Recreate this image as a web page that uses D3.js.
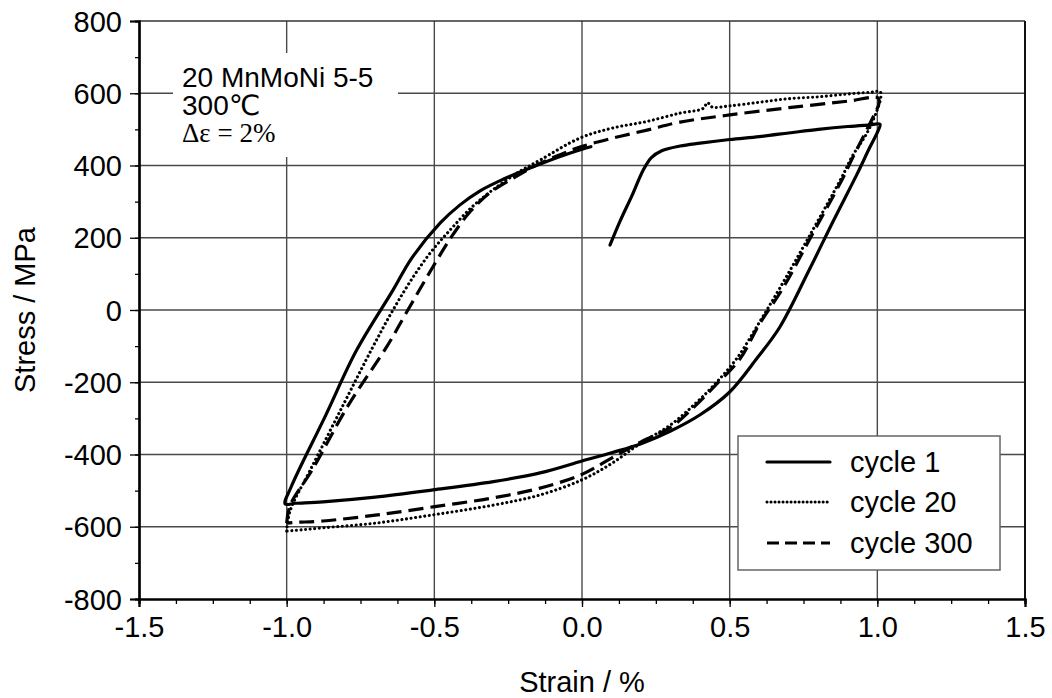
<!DOCTYPE html>
<html>
<head>
<meta charset="utf-8">
<script src="https://cdn.jsdelivr.net/npm/d3@7"></script>
<style>
  html, body { margin: 0; padding: 0; background: #fff; }
  svg { display: block; }
  text { font-family: "Liberation Sans", Arial, Helvetica, sans-serif; fill: #000; }
</style>
</head>
<body>
<svg id="chart" width="1052" height="698"></svg>
<script>
// Axis ranges and tick labels
const xDomain = [-1.5, 1.5];
const yDomain = [-800, 800];
const xTicks = [-1.5, -1.0, -0.5, 0.0, 0.5, 1.0, 1.5];
const yTicks = [-800, -600, -400, -200, 0, 200, 400, 600, 800];
const xMinorStep = 0.125;
const yMinorStep = 100;

// Hysteresis loops: [strain %, stress MPa]
const cycle1 = [
  [0.095, 180], [0.13, 248], [0.17, 318], [0.207, 387], [0.235, 422], [0.27, 441],
  [0.332, 454], [0.4, 462], [0.5, 472], [0.6, 480], [0.7, 490], [0.8, 500],
  [0.9, 508], [0.97, 512], [1.009, 514],
  [1.0, 492], [0.975, 451], [0.93, 374], [0.85, 245], [0.77, 112], [0.67, -47],
  [0.593, -133], [0.5, -227], [0.4, -290], [0.3, -335], [0.2, -370], [0.1, -395],
  [0.0, -418], [-0.142, -451], [-0.3, -475], [-0.504, -498], [-0.7, -518],
  [-0.877, -531], [-0.97, -535], [-1.005, -537],
  [-0.985, -490], [-0.87, -295], [-0.763, -111],
  [-0.64, 55], [-0.577, 143], [-0.48, 241], [-0.413, 291], [-0.345, 330],
  [-0.267, 362], [-0.176, 393], [-0.074, 425], [0.0, 445], [0.03, 452]
];

const cycle20 = [
  [-1.0, -612], [-0.988, -555], [-0.92, -443], [-0.81, -265],
  [-0.708, -102], [-0.64, 0], [-0.572, 91], [-0.51, 162],
  [-0.447, 221], [-0.379, 280], [-0.311, 327], [-0.22, 379], [-0.142, 415],
  [-0.007, 476], [0.105, 504], [0.22, 522], [0.332, 545], [0.41, 558],
  [0.425, 574], [0.44, 562], [0.5, 565], [0.6, 575], [0.7, 585], [0.8, 590],
  [0.9, 598], [0.98, 603], [1.009, 605],
  [1.012, 590], [1.0, 555], [0.965, 490], [0.914, 424], [0.88, 368], [0.77, 205],
  [0.67, 61], [0.6, -35], [0.525, -133], [0.45, -205], [0.38, -262], [0.3, -318],
  [0.2, -368], [0.1, -425], [0.0, -470], [-0.142, -512], [-0.3, -540],
  [-0.504, -567], [-0.7, -590], [-0.877, -603], [-0.97, -610], [-1.0, -612]
];

const cycle300 = [
  [-1.0, -590], [-0.988, -540], [-0.914, -443], [-0.79, -262],
  [-0.66, -100], [-0.593, -5], [-0.505, 119], [-0.44, 205],
  [-0.379, 272], [-0.311, 325], [-0.233, 365], [-0.152, 402],
  [-0.098, 422], [-0.007, 451], [0.105, 476], [0.22, 498], [0.332, 520],
  [0.5, 540], [0.7, 560], [0.9, 578], [1.003, 587],
  [1.005, 570], [0.992, 545], [0.952, 479], [0.918, 424], [0.88, 360],
  [0.78, 210], [0.68, 60], [0.6, -40], [0.535, -135], [0.45, -210], [0.38, -268],
  [0.3, -325], [0.2, -365], [0.1, -410], [0.0, -455], [-0.142, -493],
  [-0.3, -520], [-0.504, -545], [-0.7, -568], [-0.877, -584], [-0.97, -588],
  [-1.0, -590]
];

const seriesNames = ["cycle 1", "cycle 20", "cycle 300"];
const annotationLines = ["20 MnMoNi 5-5", "300\u2103", "\u0394\u03b5 = 2%"];

// Plot frame edges
const frame = { left: 139, right: 1025, top: 21, bottom: 599 };
const x = d3.scaleLinear().domain(xDomain).range([frame.left, frame.right]);
const y = d3.scaleLinear().domain(yDomain).range([frame.bottom, frame.top]);

const svg = d3.select("#chart");

// Stroke styles for the three cycles
const styles = [
  { width: 3.2, dash: null, cap: "round" },
  { width: 3.1, dash: "0.01 4.6", cap: "round" },
  { width: 3.2, dash: "15 7", cap: "butt" }
];

// Grid
const grid = svg.append("g").attr("stroke", "#4a4a4a").attr("stroke-width", 1.4);
grid.selectAll("line.v").data(xTicks.slice(1, -1)).join("line").attr("class", "v")
  .attr("x1", d => x(d)).attr("x2", d => x(d))
  .attr("y1", frame.top).attr("y2", frame.bottom);
grid.selectAll("line.h").data(yTicks.slice(1, -1)).join("line").attr("class", "h")
  .attr("x1", frame.left).attr("x2", frame.right)
  .attr("y1", d => y(d)).attr("y2", d => y(d));

// White panel behind the annotation
svg.append("rect").attr("x", 173).attr("y", 53).attr("width", 225).attr("height", 104)
  .attr("fill", "#fff");

// Frame top and right
svg.append("line").attr("x1", frame.left).attr("x2", frame.right)
  .attr("y1", frame.top).attr("y2", frame.top)
  .attr("stroke", "#333").attr("stroke-width", 1.6);
svg.append("line").attr("x1", frame.right).attr("x2", frame.right)
  .attr("y1", frame.top).attr("y2", frame.bottom)
  .attr("stroke", "#111").attr("stroke-width", 2);

// Axes with major and minor ticks; hyphen used as the minus sign
const hyphen = f => d => f(d).replace("\u2212", "-");
const xMinor = d3.range(xDomain[0], xDomain[1] + 1e-9, xMinorStep);
const yMinor = d3.range(yDomain[0], yDomain[1] + 1e-9, yMinorStep);

const xAxisMinor = svg.append("g").attr("transform", `translate(0,${frame.bottom})`)
  .call(d3.axisBottom(x).tickValues(xMinor).tickSize(5).tickFormat(""));
const xAxis = svg.append("g").attr("transform", `translate(0,${frame.bottom})`)
  .call(d3.axisBottom(x).tickValues(xTicks).tickSize(8).tickPadding(9)
    .tickFormat(hyphen(d3.format(".1f"))));
const yAxisMinor = svg.append("g").attr("transform", `translate(${frame.left},0)`)
  .call(d3.axisLeft(y).tickValues(yMinor).tickSize(4).tickFormat(""));
const yAxis = svg.append("g").attr("transform", `translate(${frame.left},0)`)
  .call(d3.axisLeft(y).tickValues(yTicks).tickSize(9).tickPadding(8)
    .tickFormat(hyphen(d3.format("d"))));

[xAxis, xAxisMinor, yAxis, yAxisMinor].forEach(g => {
  g.select(".domain").attr("stroke", "#000").attr("stroke-width", 2.2);
  g.selectAll(".tick line").attr("stroke", "#000").attr("stroke-width", 1.3);
  g.selectAll(".tick text").style("font-size", "29px")
    .style("font-family", "'Liberation Sans', Arial, sans-serif").attr("fill", "#000");
});
xAxis.selectAll(".tick text").attr("dy", "0.71em");
yAxis.selectAll(".tick text").attr("dy", "0.35em");

// Axis titles
svg.append("text").attr("x", (frame.left + frame.right) / 2).attr("y", 692)
  .attr("text-anchor", "middle").style("font-size", "29px").text("Strain / %");
svg.append("text")
  .attr("transform", `translate(35,${(frame.top + frame.bottom) / 2}) rotate(-90)`)
  .attr("text-anchor", "middle").style("font-size", "29px").text("Stress / MPa");

// Annotation
const ann = svg.append("g");
ann.append("text").attr("x", 182).attr("y", 87).style("font-size", "28px").text(annotationLines[0]);
ann.append("text").attr("x", 182).attr("y", 115).style("font-size", "28px")
  .style("font-family", "'Liberation Sans', 'DejaVu Sans', sans-serif").text(annotationLines[1]);
ann.append("text").attr("x", 182).attr("y", 142).style("font-size", "27px")
  .style("font-family", "'Liberation Serif', 'Times New Roman', serif").text(annotationLines[2]);

// Curves
const line = d3.line().x(d => x(d[0])).y(d => y(d[1]))
  .curve(d3.curveCatmullRom.alpha(0.5));
const curves = [cycle1, cycle20, cycle300];
svg.append("g").selectAll("path").data(curves).join("path")
  .attr("d", d => line(d))
  .attr("fill", "none")
  .attr("stroke", "#000")
  .attr("stroke-linejoin", "round")
  .attr("stroke-width", (d, i) => styles[i].width)
  .attr("stroke-linecap", (d, i) => styles[i].cap)
  .attr("stroke-dasharray", (d, i) => styles[i].dash);

// Legend
const legend = svg.append("g");
legend.append("rect").attr("x", 738).attr("y", 436).attr("width", 262).attr("height", 134)
  .attr("fill", "#fff").attr("stroke", "#666").attr("stroke-width", 1.5);
const rowY = [462, 502, 543];
const legendDash = [null, "0.01 4", "12 6"];
seriesNames.forEach((name, i) => {
  legend.append("line").attr("x1", 767).attr("x2", 830).attr("y1", rowY[i]).attr("y2", rowY[i])
    .attr("stroke", "#000").attr("stroke-width", styles[i].width)
    .attr("stroke-linecap", styles[i].cap)
    .attr("stroke-dasharray", legendDash[i]);
  legend.append("text").attr("x", 850).attr("y", rowY[i] + 10).style("font-size", "29px").text(name);
});
</script>
</body>
</html>
